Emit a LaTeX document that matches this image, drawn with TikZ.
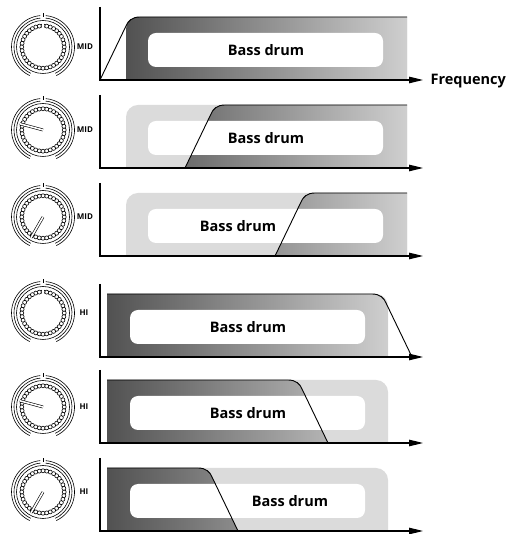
\documentclass[tikz,border=0pt]{standalone}
\usepackage{fontspec}
\setmainfont{Open Sans}
\usepackage{tikz}
\usetikzlibrary{arrows.meta}

\begin{document}
\begin{tikzpicture}[x=1pt, y=1pt,
    axis/.style={line width=1.1pt, -{Triangle[length=14pt,width=6.5pt]}},
    curve/.style={line width=0.9pt},
    lightband/.style={fill=black!14},
    darkband/.style={left color=black!68, right color=black!19},
    hole/.style={fill=white, rounded corners=8pt},
    drum/.style={font=\bfseries\fontsize{14.5}{17}\selectfont},
    knoblabel/.style={font=\bfseries\fontsize{8}{9}\selectfont, inner sep=0pt},
    knob/.pic={
      \draw[line width=0.6pt] (0,0) circle (26.5);
      \foreach \r in {29,31.5} {
        \draw[line width=0.6pt] (95:\r) arc (95:245:\r);
        \draw[line width=0.6pt] (295:\r) arc (295:445:\r);
      }
      \draw[line width=0.6pt] (90:30) -- (90:34);
      \foreach \a in {0,10,...,350}
        \draw[line width=0.6pt, fill=white] (\a:21.2) circle (2);
      \draw[line width=0.6pt, double=white, double distance=1.6pt] (0,0) -- (#1:24);
    }]
  \useasboundingbox (0,0) rectangle (513,534);

  % MID: cut rises from the left
  \foreach \b/\xs/\tx/\ky/\ang [count=\i] in {454/100/266/487/90, 366/185/266/404/165, 278/275/238/317/240} {
    \fill[lightband] (126,\b) -- (126,\b+51) arc (180:90:12) -- (407,\b+63) -- (407,\b) -- cycle;
    \begin{scope}
      \clip (126,\b) -- (126,\b+51) arc (180:90:12) -- (407,\b+63) -- (407,\b) -- cycle;
      \clip (\xs,\b) -- (\xs+26,\b+54) .. controls (\xs+28,\b+59) and (\xs+32,\b+63) .. (\xs+40,\b+63)
        -- (407,\b+63) -- (407,\b) -- cycle;
      \shade[darkband] (126,\b) rectangle (407,\b+63);
    \end{scope}
    \fill[hole] (148,\b+13) rectangle (383,\b+47);
    \draw[curve] (\xs,\b) -- (\xs+26,\b+54) .. controls (\xs+28,\b+59) and (\xs+32,\b+63) .. (\xs+40,\b+63)
      -- (407,\b+63);
    \draw[axis] (100,\b+73) -- (100,\b) -- (423,\b);
    \node[drum] (mid drum \i) at (\tx,\b+30) {Bass drum};
    \pic at (43,\ky) {knob=\ang};
    \node[knoblabel] (mid label \i) at (85,\ky) {MID};
  }
  \node[drum, anchor=west] (freq) at (427,453) {Frequency};

  % HI: cut falls to the right
  \foreach \b/\xe/\tx/\ky/\ang [count=\i] in {177/412/248/221/90, 91/328/248/127/165, 3/238/290/42/240} {
    \fill[lightband] (107,\b) -- (107,\b+63) -- (376,\b+63) arc (90:0:12) -- (388,\b) -- cycle;
    \begin{scope}
      \clip (107,\b) -- (107,\b+63) -- (376,\b+63) arc (90:0:12) -- (388,\b) -- cycle;
      \clip (107,\b) -- (107,\b+63) -- (\xe-40,\b+63) .. controls (\xe-32,\b+63) and (\xe-28,\b+59) .. (\xe-26,\b+54)
        -- (\xe,\b) -- cycle;
      \shade[darkband] (107,\b) rectangle (388,\b+63);
    \end{scope}
    \fill[hole] (130,\b+13) rectangle (365,\b+47);
    \draw[curve] (107,\b+63) -- (\xe-40,\b+63) .. controls (\xe-32,\b+63) and (\xe-28,\b+59) .. (\xe-26,\b+54)
      -- (\xe,\b);
    \draw[axis] (100,\b+73) -- (100,\b) -- (423,\b);
    \node[drum] (hi drum \i) at (\tx,\b+30) {Bass drum};
    \pic at (43,\ky) {knob=\ang};
    \node[knoblabel] (hi label \i) at (84,\ky) {HI};
  }
\end{tikzpicture}
\end{document}
